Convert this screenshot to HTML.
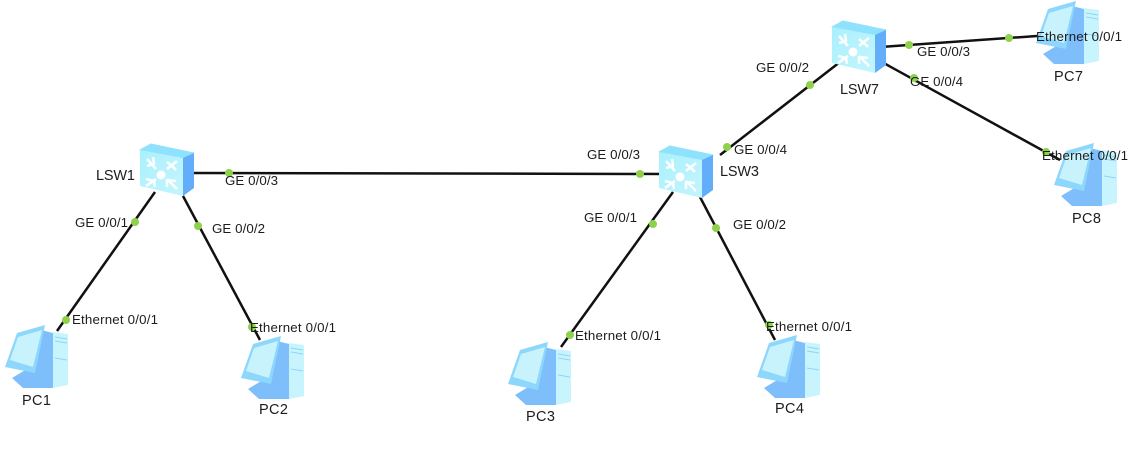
<!DOCTYPE html>
<html><head><meta charset="utf-8">
<style>
html,body{margin:0;padding:0;background:#fff;width:1142px;height:451px;overflow:hidden}
svg{display:block;filter:blur(.35px)}
text{font-family:"Liberation Sans",sans-serif;font-size:13.3px;fill:#1c1c1c}
.n{font-size:14.5px}
</style></head><body>
<svg width="1142" height="451" viewBox="0 0 1142 451" xmlns="http://www.w3.org/2000/svg">
<defs>
<linearGradient id="f" x1="0" y1="0" x2="1" y2="1">
  <stop offset="0" stop-color="#aaf0fd"/><stop offset="1" stop-color="#c4f5fd"/>
</linearGradient>
<g id="sw">
  <path d="M0 4 L11 -2 L54 7 L43 12 Z" fill="#8fe2fd" stroke="#8fe2fd" stroke-linejoin="round"/>
  <path d="M43 12 L54 7 L54 42 L43 50 Z" fill="#62aefb"/>
  <path d="M0 4 L43 12 L43 50 L0 40 Z" fill="url(#f)"/>
  <circle cx="21" cy="29" r="4.5" fill="#fff"/>
  <g fill="none" stroke="#fff" stroke-width="2.6" stroke-linejoin="round">
    <path d="M7 13 L16 23 M7 20 L14 18 L13 11" opacity=".95"/>
    <path d="M37 15 L27 23 M27 16 L33 21 L36 24" opacity=".95"/>
    <path d="M6 40 L16 33 M6 33 L14 35 L15 41" opacity=".95"/>
    <path d="M37 43 L27 33 M27 41 L27 34 L36 35" opacity=".95"/>
  </g>
</g>
<g id="pc">
  <path d="M36 5 L48 8 L48 63 L18 63 L7 53 L22 44 Z" fill="#7dbefb"/>
  <path d="M48 7 L63 9 L63 60 L48 63 Z" fill="#c8f5fd"/>
  <path d="M50 12 L62 14 M50 16 L62 18 M50 33 L62 35" stroke="#8fd4f8" stroke-width="1"/>
  <path d="M0 42 L12 8 L40 0 L30 48 Z" fill="#8dd6fc"/>
  <path d="M5 35 L13 12 L37 5 L28 42 Z" fill="#c8f3fd"/>
</g>
</defs>
<use href="#pc" x="5" y="325"/>
<use href="#pc" x="241" y="336"/>
<use href="#pc" x="508" y="342"/>
<use href="#pc" x="757" y="335"/>
<use href="#pc" x="1036" y="1"/>
<use href="#pc" x="1054" y="143"/>
<g stroke="#111" stroke-width="2.5" fill="none">
  <line x1="190" y1="173" x2="665" y2="174"/>
  <line x1="155" y1="192" x2="57" y2="331"/>
  <line x1="183" y1="196" x2="260" y2="340"/>
  <line x1="673" y1="192" x2="561" y2="347"/>
  <line x1="700" y1="197" x2="775" y2="340"/>
  <line x1="720" y1="155" x2="840" y2="62"/>
  <line x1="880" y1="47" x2="1037" y2="36"/>
  <line x1="880" y1="61" x2="1060" y2="160"/>
</g>
<use href="#sw" x="140" y="146"/>
<use href="#sw" x="659" y="148"/>
<use href="#sw" x="832" y="23"/>
<g fill="#8ed24a">
  <circle cx="229" cy="173" r="4"/><circle cx="640" cy="174" r="4"/>
  <circle cx="135" cy="222" r="4"/><circle cx="198" cy="226" r="4"/>
  <circle cx="66" cy="320" r="4"/><circle cx="252" cy="327" r="4"/>
  <circle cx="653" cy="224" r="4"/><circle cx="716" cy="228" r="4"/>
  <circle cx="570" cy="335" r="4"/><circle cx="769" cy="325" r="4"/>
  <circle cx="727" cy="147" r="4"/><circle cx="810" cy="85" r="4"/>
  <circle cx="909" cy="45" r="4"/><circle cx="1009" cy="38" r="4"/>
  <circle cx="914" cy="78" r="4"/><circle cx="1046" cy="152" r="4"/>
</g>
<text class="n" x="96" y="180" textLength="39">LSW1</text>
<text class="n" x="720" y="176" textLength="39">LSW3</text>
<text class="n" x="840" y="94" textLength="39">LSW7</text>
<text class="n" x="22" y="405" textLength="29">PC1</text>
<text class="n" x="259" y="414" textLength="29">PC2</text>
<text class="n" x="526" y="421" textLength="29">PC3</text>
<text class="n" x="775" y="413" textLength="29">PC4</text>
<text class="n" x="1054" y="81" textLength="29">PC7</text>
<text class="n" x="1072" y="223" textLength="29">PC8</text>
<text x="75" y="227" textLength="53">GE 0/0/1</text>
<text x="212" y="233" textLength="53">GE 0/0/2</text>
<text x="225" y="185" textLength="53">GE 0/0/3</text>
<text x="587" y="159" textLength="53">GE 0/0/3</text>
<text x="584" y="222" textLength="53">GE 0/0/1</text>
<text x="733" y="229" textLength="53">GE 0/0/2</text>
<text x="734" y="154" textLength="53">GE 0/0/4</text>
<text x="756" y="72" textLength="53">GE 0/0/2</text>
<text x="917" y="56" textLength="53">GE 0/0/3</text>
<text x="910" y="86" textLength="53">GE 0/0/4</text>
<text x="72" y="324" textLength="86">Ethernet 0/0/1</text>
<text x="250" y="332" textLength="86">Ethernet 0/0/1</text>
<text x="575" y="340" textLength="86">Ethernet 0/0/1</text>
<text x="766" y="331" textLength="86">Ethernet 0/0/1</text>
<text x="1036" y="41" textLength="86">Ethernet 0/0/1</text>
<text x="1042" y="160" textLength="86">Ethernet 0/0/1</text>
</svg>
</body></html>
